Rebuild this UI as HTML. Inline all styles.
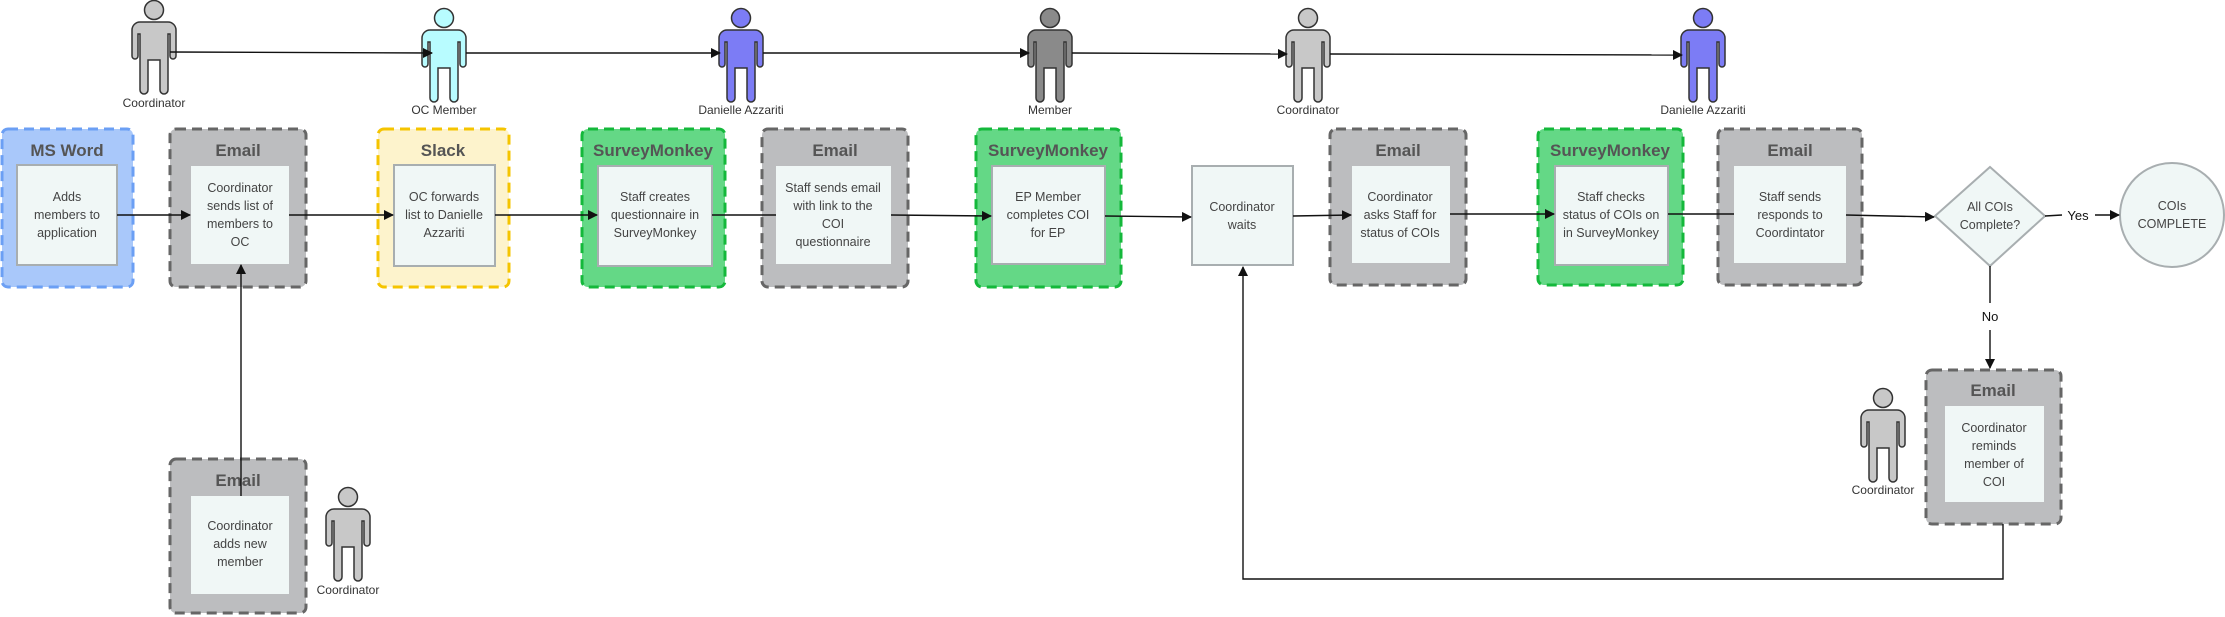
<!DOCTYPE html>
<html><head><meta charset="utf-8"><style>
html,body{margin:0;padding:0;background:#fff;}
svg{display:block;font-family:"Liberation Sans",sans-serif;}
.t{font-size:17px;font-weight:bold;fill:#555;text-anchor:middle;}
.b{font-size:12.5px;fill:#444;text-anchor:middle;}
.l{font-size:12px;fill:#333;text-anchor:middle;}
.ln{stroke:#111;stroke-width:1.4;fill:none;}
</style></head><body>
<svg width="2225" height="617" viewBox="0 0 2225 617" xmlns="http://www.w3.org/2000/svg">
<defs>
<marker id="a" markerWidth="10" markerHeight="10" refX="9" refY="5" orient="auto" markerUnits="userSpaceOnUse"><path d="M0,0 L10,5 L0,10z" fill="#111"/></marker>
<path id="p" d="M-14,22 h28 a8,8 0 0 1 8,8 v26 a3,3 0 0 1 -6,0 v-22 h-2 v56 a4,4 0 0 1 -8,0 v-30 h-12 v30 a4,4 0 0 1 -8,0 v-56 h-2 v22 a3,3 0 0 1 -6,0 v-26 a8,8 0 0 1 8,-8z" stroke="#333" stroke-width="1.5"/>
</defs>

<!-- top actors -->
<g transform="translate(154,0)" fill="#c8c8c8"><circle cx="0" cy="10" r="9.5" stroke="#333" stroke-width="1.5"/><use href="#p"/></g>
<text class="l" x="154" y="107">Coordinator</text>
<g transform="translate(444,8)" fill="#b8fcff"><circle cx="0" cy="10" r="9.5" stroke="#333" stroke-width="1.5"/><use href="#p"/></g>
<text class="l" x="444" y="114">OC Member</text>
<g transform="translate(741,8)" fill="#7c7cf5"><circle cx="0" cy="10" r="9.5" stroke="#333" stroke-width="1.5"/><use href="#p"/></g>
<text class="l" x="741" y="114">Danielle Azzariti</text>
<g transform="translate(1050,8)" fill="#8a8a8a"><circle cx="0" cy="10" r="9.5" stroke="#333" stroke-width="1.5"/><use href="#p"/></g>
<text class="l" x="1050" y="114">Member</text>
<g transform="translate(1308,8)" fill="#c8c8c8"><circle cx="0" cy="10" r="9.5" stroke="#333" stroke-width="1.5"/><use href="#p"/></g>
<text class="l" x="1308" y="114">Coordinator</text>
<g transform="translate(1703,8)" fill="#7c7cf5"><circle cx="0" cy="10" r="9.5" stroke="#333" stroke-width="1.5"/><use href="#p"/></g>
<text class="l" x="1703" y="114">Danielle Azzariti</text>

<line class="ln" x1="170" y1="52" x2="432" y2="53" marker-end="url(#a)"/>
<line class="ln" x1="466" y1="53" x2="720" y2="53" marker-end="url(#a)"/>
<line class="ln" x1="763" y1="53" x2="1029" y2="53" marker-end="url(#a)"/>
<line class="ln" x1="1072" y1="53" x2="1287" y2="54" marker-end="url(#a)"/>
<line class="ln" x1="1330" y1="54" x2="1682" y2="55" marker-end="url(#a)"/>

<!-- containers -->
<g stroke-width="3" stroke-dasharray="10,6">
<rect x="2" y="129" width="131" height="158" rx="6" fill="#a9c8fa" stroke="#6b9ff4"/>
<rect x="170" y="129" width="136" height="158" rx="6" fill="#bcbdbf" stroke="#666"/>
<rect x="378" y="129" width="131" height="158" rx="6" fill="#fdf3cc" stroke="#f5c400"/>
<rect x="582" y="129" width="143" height="158" rx="6" fill="#64d886" stroke="#14b83b"/>
<rect x="762" y="129" width="146" height="158" rx="6" fill="#bcbdbf" stroke="#666"/>
<rect x="976" y="129" width="145" height="158" rx="6" fill="#64d886" stroke="#14b83b"/>
<rect x="1330" y="129" width="136" height="156" rx="6" fill="#bcbdbf" stroke="#666"/>
<rect x="1538" y="129" width="145" height="156" rx="6" fill="#64d886" stroke="#14b83b"/>
<rect x="1718" y="129" width="144" height="156" rx="6" fill="#bcbdbf" stroke="#666"/>
<rect x="1926" y="370" width="135" height="154" rx="6" fill="#bcbdbf" stroke="#666"/>
<rect x="170" y="459" width="136" height="154" rx="6" fill="#bcbdbf" stroke="#666"/>
</g>
<text class="t" x="67" y="156">MS Word</text>
<text class="t" x="238" y="156">Email</text>
<text class="t" x="443" y="156">Slack</text>
<text class="t" x="653" y="156">SurveyMonkey</text>
<text class="t" x="835" y="156">Email</text>
<text class="t" x="1048" y="156">SurveyMonkey</text>
<text class="t" x="1398" y="156">Email</text>
<text class="t" x="1610" y="156">SurveyMonkey</text>
<text class="t" x="1790" y="156">Email</text>
<text class="t" x="1993" y="396">Email</text>
<text class="t" x="238" y="486">Email</text>

<!-- inner boxes -->
<g fill="#f0f7f6" stroke="#a8aeb0" stroke-width="2">
<rect x="17" y="165" width="100" height="100"/>
<rect x="191" y="166" width="98" height="98" stroke="none"/>
<rect x="394" y="165" width="101" height="101"/>
<rect x="598" y="166" width="114" height="100"/>
<rect x="776" y="166" width="115" height="98" stroke="none"/>
<rect x="992" y="166" width="113" height="98"/>
<rect x="1192" y="166" width="101" height="99"/>
<rect x="1352" y="166" width="98" height="97" stroke="none"/>
<rect x="1555" y="166" width="113" height="99"/>
<rect x="1734" y="166" width="112" height="97" stroke="none"/>
<rect x="1945" y="406" width="99" height="96" stroke="none"/>
<rect x="191" y="496" width="98" height="98" stroke="none"/>
</g>
<polygon points="1990,167 2045,216 1990,266 1935,216" fill="#f0f7f6" stroke="#a8aeb0" stroke-width="2"/>
<ellipse cx="2172" cy="215" rx="52" ry="52" fill="#f0f7f6" stroke="#a8aeb0" stroke-width="2"/>

<!-- connectors (on top) -->
<line class="ln" x1="117" y1="215" x2="190" y2="215" marker-end="url(#a)"/>
<line class="ln" x1="289" y1="215" x2="393" y2="215" marker-end="url(#a)"/>
<line class="ln" x1="495" y1="215" x2="597" y2="215" marker-end="url(#a)"/>
<line class="ln" x1="712" y1="215" x2="776" y2="215"/>
<line class="ln" x1="891" y1="215" x2="991" y2="216" marker-end="url(#a)"/>
<line class="ln" x1="1105" y1="216" x2="1191" y2="217" marker-end="url(#a)"/>
<line class="ln" x1="1293" y1="216" x2="1351" y2="215" marker-end="url(#a)"/>
<line class="ln" x1="1450" y1="214" x2="1554" y2="214" marker-end="url(#a)"/>
<line class="ln" x1="1668" y1="214" x2="1734" y2="214"/>
<line class="ln" x1="1846" y1="215" x2="1934" y2="217" marker-end="url(#a)"/>
<line class="ln" x1="2045" y1="216" x2="2062" y2="215"/>
<line class="ln" x1="2095" y1="215" x2="2119" y2="215" marker-end="url(#a)"/>
<text x="2078" y="220" font-size="13" fill="#111" text-anchor="middle">Yes</text>
<line class="ln" x1="1990" y1="266" x2="1990" y2="303"/>
<text x="1990" y="321" font-size="13" fill="#111" text-anchor="middle">No</text>
<line class="ln" x1="1990" y1="330" x2="1990" y2="368" marker-end="url(#a)"/>
<polyline class="ln" points="2003,524 2003,579 1243,579 1243,267" marker-end="url(#a)"/>
<line class="ln" x1="241" y1="496" x2="241" y2="265" marker-end="url(#a)"/>

<g class="b">
<text x="67" y="201">Adds</text><text x="67" y="219">members to</text><text x="67" y="237">application</text>
<text x="240" y="192">Coordinator</text><text x="240" y="210">sends list of</text><text x="240" y="228">members to</text><text x="240" y="246">OC</text>
<text x="444" y="201">OC forwards</text><text x="444" y="219">list to Danielle</text><text x="444" y="237">Azzariti</text>
<text x="655" y="201">Staff creates</text><text x="655" y="219">questionnaire in</text><text x="655" y="237">SurveyMonkey</text>
<text x="833" y="192">Staff sends email</text><text x="833" y="210">with link to the</text><text x="833" y="228">COI</text><text x="833" y="246">questionnaire</text>
<text x="1048" y="201">EP Member</text><text x="1048" y="219">completes COI</text><text x="1048" y="237">for EP</text>
<text x="1242" y="211">Coordinator</text><text x="1242" y="229">waits</text>
<text x="1400" y="201">Coordinator</text><text x="1400" y="219">asks Staff for</text><text x="1400" y="237">status of COIs</text>
<text x="1611" y="201">Staff checks</text><text x="1611" y="219">status of COIs on</text><text x="1611" y="237">in SurveyMonkey</text>
<text x="1790" y="201">Staff sends</text><text x="1790" y="219">responds to</text><text x="1790" y="237">Coordintator</text>
<text x="1990" y="211">All COIs</text><text x="1990" y="229">Complete?</text>
<text x="2172" y="210">COIs</text><text x="2172" y="228">COMPLETE</text>
<text x="1994" y="432">Coordinator</text><text x="1994" y="450">reminds</text><text x="1994" y="468">member of</text><text x="1994" y="486">COI</text>
<text x="240" y="530">Coordinator</text><text x="240" y="548">adds new</text><text x="240" y="566">member</text>
</g>

<!-- side actors -->
<g transform="translate(348,487)" fill="#c8c8c8"><circle cx="0" cy="10" r="9.5" stroke="#333" stroke-width="1.5"/><use href="#p"/></g>
<text class="l" x="348" y="594">Coordinator</text>
<g transform="translate(1883,388)" fill="#c8c8c8"><circle cx="0" cy="10" r="9.5" stroke="#333" stroke-width="1.5"/><use href="#p"/></g>
<text class="l" x="1883" y="494">Coordinator</text>
</svg>
</body></html>
